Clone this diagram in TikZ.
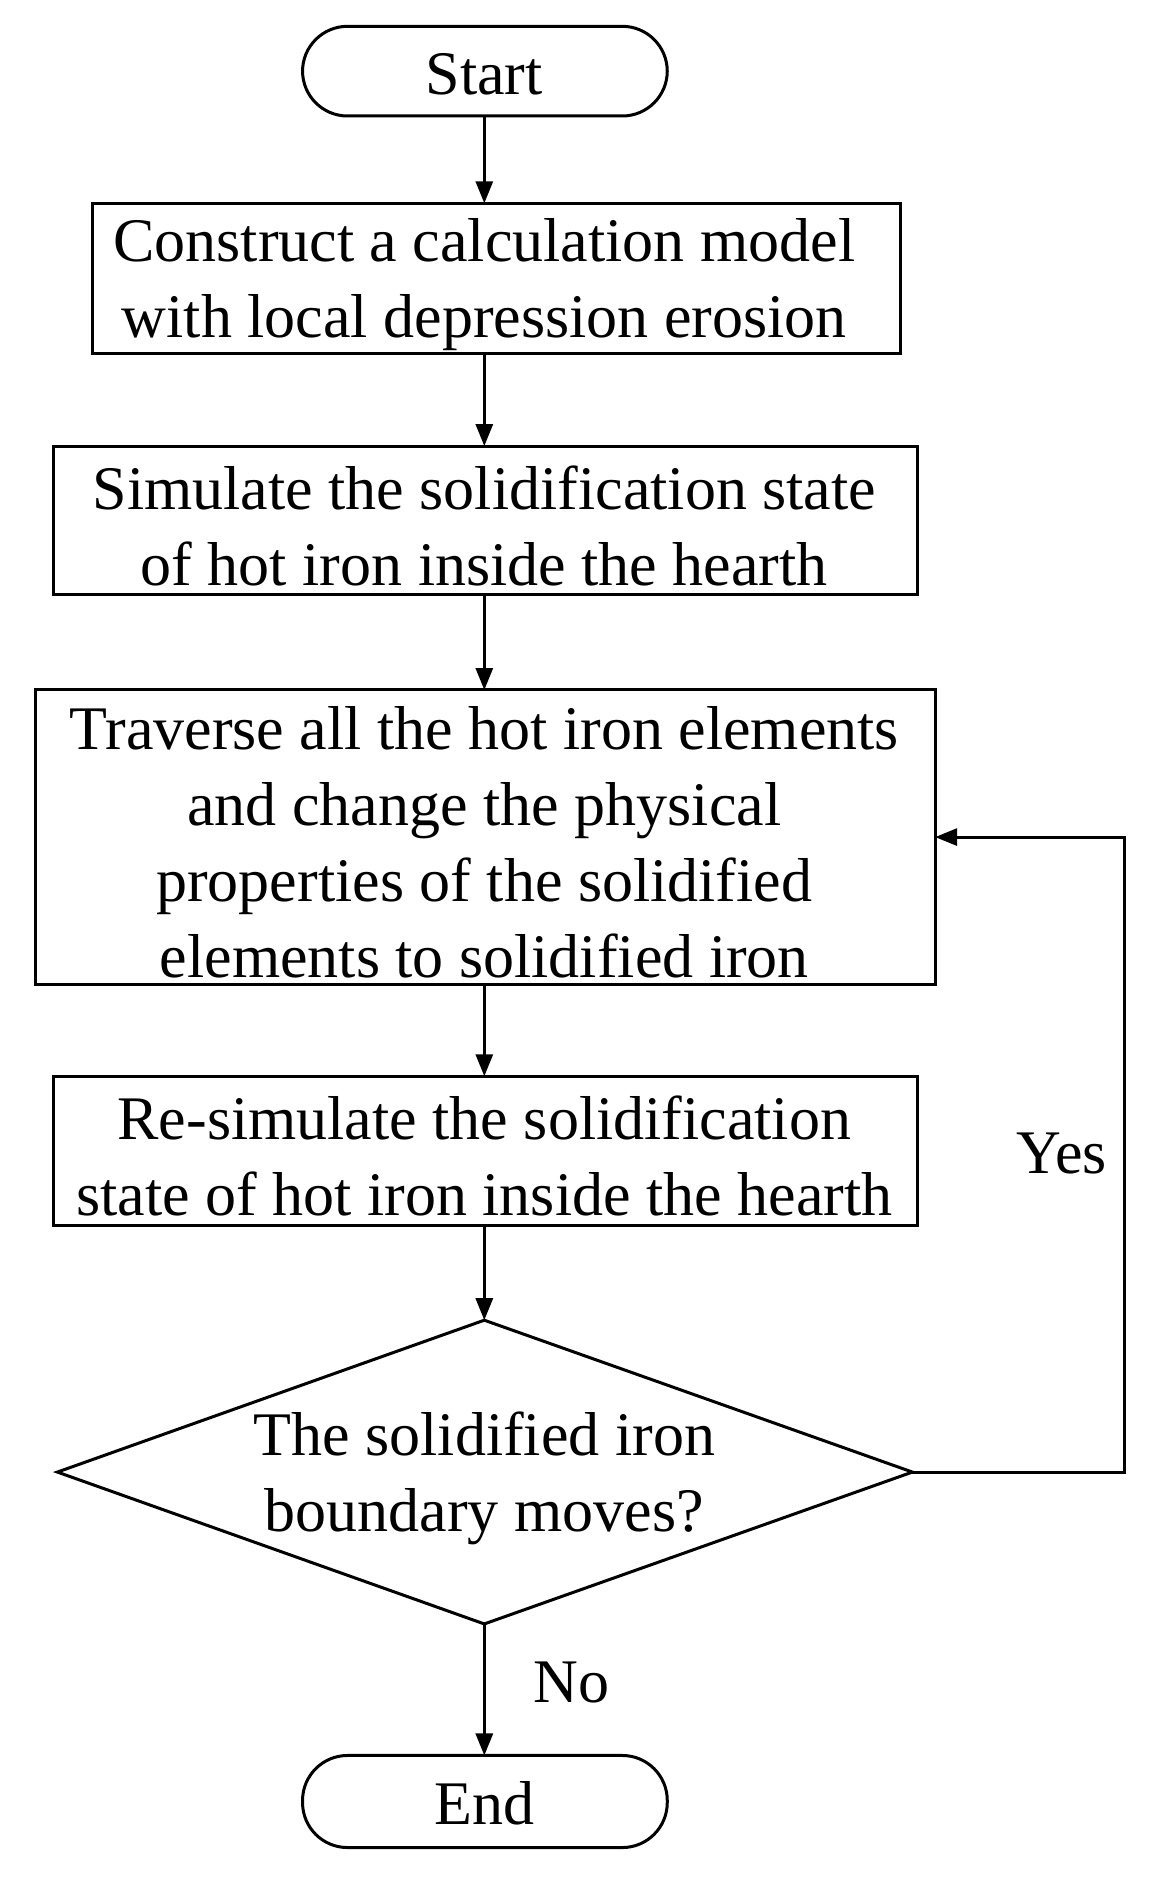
\documentclass[tikz,border=0pt]{standalone}
\usepackage{fontspec}
\setmainfont{Liberation Serif}
\usetikzlibrary{arrows.meta}
\begin{document}
\begin{tikzpicture}[x=1.196pt,y=-1.196pt,line width=3pt,
  txt/.style={font=\fontsize{62}{76}\selectfont,align=center},
  arr/.style={-{Triangle[length=22pt,width=17pt]}}]
\useasboundingbox (0,0) rectangle (970,1578);
\draw[rounded corners=45pt] (253,22) rectangle (558,97);
\node[txt] (start) at (405,62) {Start};
\draw (77,170) rectangle (753,296); \node[txt] (b1) at (405,238) {Construct a calculation model\\with local depression erosion};
\draw (45,373) rectangle (767,497); \node[txt] (b2) at (405,440) {Simulate the solidification state\\of hot iron inside the hearth};
\draw (30,577) rectangle (782,823); \node[txt] (b3) at (405,704) {Traverse all the hot iron elements\\and change the physical\\properties of the solidified\\elements to solidified iron};
\draw (45,900) rectangle (767,1025); \node[txt] (b4) at (405,967) {Re-simulate the solidification\\state of hot iron inside the hearth};
\draw (48,1231) -- (405,1104) -- (763,1231) -- (405,1358) -- cycle;
\node[txt] (d) at (405,1236) {The solidified iron\\boundary moves?};
\draw[rounded corners=45pt] (253,1468) rectangle (558,1545);
\node[txt] (end) at (405,1508) {End};
\draw[arr] (405,97) -- (405,170);
\draw[arr] (405,296) -- (405,373);
\draw[arr] (405,497) -- (405,577);
\draw[arr] (405,823) -- (405,900);
\draw[arr] (405,1025) -- (405,1104);
\draw[arr] (405,1358) -- (405,1468);
\draw[arr] (763,1231) -- (940,1231) -- (940,700) -- (782,700);
\node[txt] (yes) at (888,965) {Yes};
\node[txt] (no) at (478,1407) {No};
\end{tikzpicture}
\end{document}
